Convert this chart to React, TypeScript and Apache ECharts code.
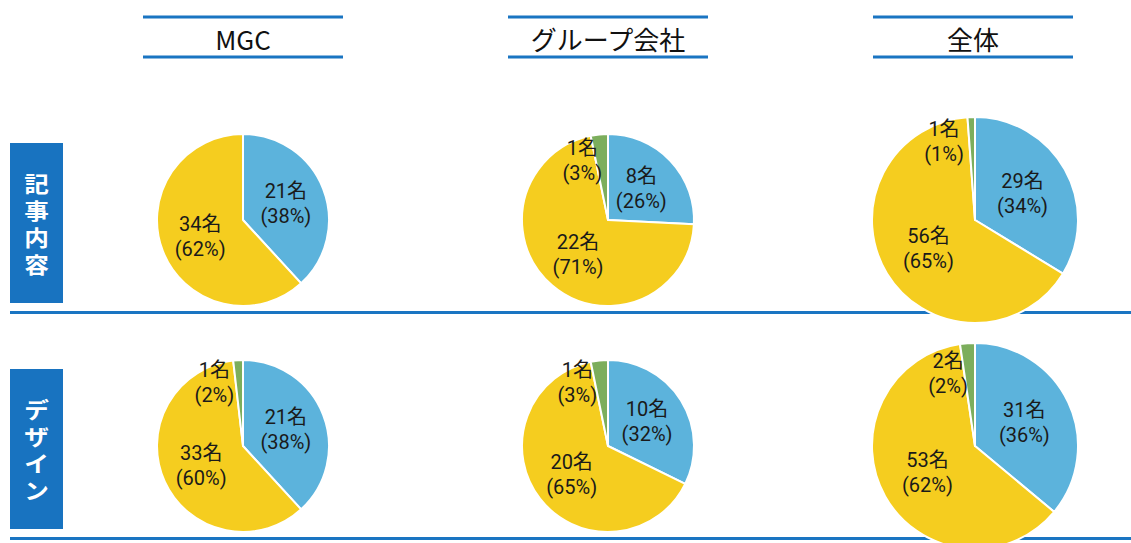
import React, { useEffect, useRef } from "react";
import * as echarts from "echarts";

const columnTitles = ["MGC", "グループ会社", "全体"];
const rowTitles = ["記事内容", "デザイン"];
const sliceNames = ["A", "B", "C"];

// counts per pie: [blue, yellow, green]
const mgcArticle = [21, 34, 0];
const groupArticle = [8, 22, 1];
const allArticle = [29, 56, 1];
const mgcDesign = [21, 33, 1];
const groupDesign = [10, 20, 1];
const allDesign = [31, 53, 2];

const pieValues = [mgcArticle, groupArticle, allArticle, mgcDesign, groupDesign, allDesign];

// layout (style) arrays
const colX = [243, 608, 975];
const rowY = [220, 446];
const pieRadius = [86, 86, 103];
const greenOffsets = [
  [0, 0],
  [-21, -14],
  [-29, -24],
  [-26, -18],
  [-26, -18],
  [-23, -18],
];

const BLUE = "#5cb3dc";
const YELLOW = "#f5cd1f";
const GREEN = "#7cae5c";
const LINE = "#1a75c2";
const FONT = "'Noto Sans CJK JP', 'Noto Sans', sans-serif";
const LABEL_FONT = "Roboto, 'Noto Sans CJK JP', sans-serif";

export default function App() {
  const ref = useRef<HTMLDivElement>(null);
  useEffect(() => {
    if (!ref.current) return;
    const chart = echarts.init(ref.current, undefined, { renderer: "svg" });

    const series: any[] = pieValues.map((vals, i) => {
      const col = i % 3;
      const row = Math.floor(i / 3);
      const off = greenOffsets[i];
      return {
        type: "pie",
        center: [colX[col], rowY[row]],
        radius: pieRadius[col],
        startAngle: 90,
        clockwise: true,
        percentPrecision: 0,
        silent: true,
        itemStyle: { borderColor: "#ffffff", borderWidth: 2 },
        label: {
          show: true,
          position: "inside",
          formatter: (p: any) => `${p.value}名\n(${p.percent}%)`,
          fontSize: 20,
          lineHeight: 25,
          color: "#1a1a1a",
          fontFamily: LABEL_FONT,
          align: "center",
        },
        labelLine: { show: false },
        labelLayout: (params: any) =>
          params.dataIndex === 2 ? { dx: off[0], dy: off[1] } : {},
        data: vals
          .map((v, k) => ({
            name: sliceNames[k],
            value: v,
            itemStyle: { color: [BLUE, YELLOW, GREEN][k] },
          }))
          .filter((d) => d.value > 0),
      };
    });

    const graphic: any[] = [];
    columnTitles.forEach((t, c) => {
      const cx = colX[c] - (c === 2 ? 2 : 0);
      graphic.push(
        { type: "line", shape: { x1: cx - 100, y1: 17, x2: cx + 100, y2: 17 }, style: { stroke: LINE, lineWidth: 3 } },
        { type: "line", shape: { x1: cx - 100, y1: 57, x2: cx + 100, y2: 57 }, style: { stroke: LINE, lineWidth: 3 } },
        {
          type: "text",
          style: { text: t, x: cx, y: 38, align: "center", verticalAlign: "middle", fontSize: 26, fontFamily: FONT, fill: "#111111" },
        }
      );
    });
    const boxTop = [143, 369];
    const lineY = [312.5, 538.5];
    rowTitles.forEach((t, r) => {
      graphic.push(
        { type: "rect", shape: { x: 10, y: boxTop[r], width: 53, height: 160 }, style: { fill: "#1873c0" } },
        {
          type: "text",
          x: 36.5,
          y: boxTop[r] + 80,
          scaleX: 1.12,
          style: {
            text: t.split("").join("\n"),
            x: 0,
            y: 0,
            align: "center",
            verticalAlign: "middle",
            fontSize: 22,
            fontWeight: "bold",
            lineHeight: 27,
            fontFamily: FONT,
            fill: "#ffffff",
          },
        },
        { type: "line", shape: { x1: 10, y1: lineY[r], x2: 1131, y2: lineY[r] }, style: { stroke: LINE, lineWidth: 3 } }
      );
    });

    chart.setOption({
      animation: false,
      backgroundColor: "#ffffff",
      graphic,
      series,
    });
    return () => chart.dispose();
  }, []);
  return (
    <div
      ref={ref}
      style={{ position: "fixed", left: 0, top: 0, width: 1131, height: 543 }}
    />
  );
}
